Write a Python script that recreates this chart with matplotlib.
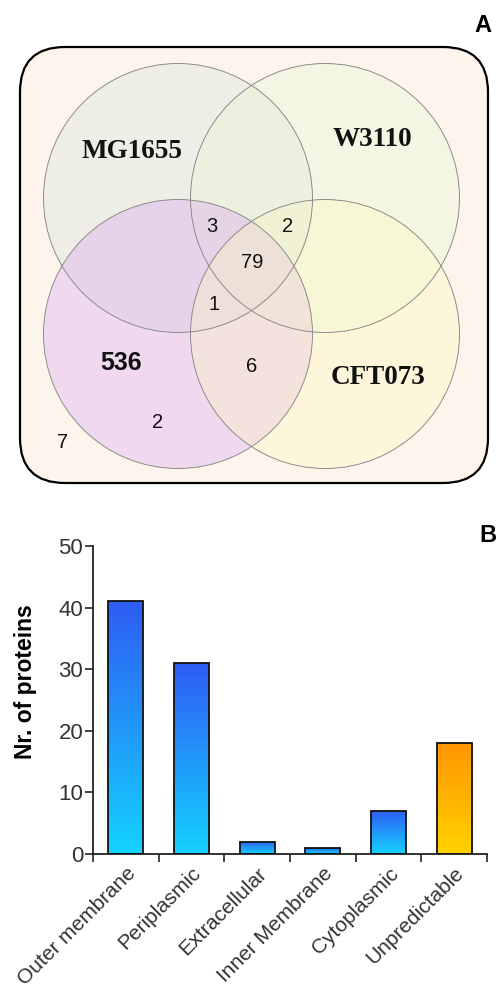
import numpy as np
import matplotlib
matplotlib.use("Agg")
import matplotlib.pyplot as plt
from matplotlib.patches import Circle, FancyBboxPatch
from matplotlib.colors import LinearSegmentedColormap

# ---------------- data ----------------
set_names = ["MG1655", "W3110", "536", "CFT073"]
region_counts = [3, 2, 79, 1, 6, 2, 7]

categories = ["Outer membrane", "Periplasmic", "Extracellular",
              "Inner Membrane", "Cytoplasmic", "Unpredictable"]
protein_counts = [41, 31, 2, 1, 7, 18]
bar_kind = ["blue", "blue", "blue", "blue", "blue", "orange"]
y_ticks = [0, 10, 20, 30, 40, 50]

# ---------------- figure ----------------
W, H = 498, 994
fig = plt.figure(figsize=(W / 100, H / 100), dpi=100)
fig.patch.set_facecolor("white")

# ---- Panel A: Venn diagram (axes in pixel units) ----
axv = fig.add_axes([0, 1 - 500 / H, 1, 500 / H])
axv.set_xlim(0, 498)
axv.set_ylim(500, 0)
axv.axis("off")

box = FancyBboxPatch((20, 47), 468, 436,
                     boxstyle="round,pad=0,rounding_size=45",
                     facecolor="#fdf5ec", edgecolor="black", linewidth=1.6,
                     zorder=1)
axv.add_patch(box)

circle_centers = [(178, 198), (325, 198), (178, 334), (325, 334)]
circle_radius = 134.5
circle_colors = ["#d2e1db", "#e6f5d2", "#d8a2f2", "#fdf8be"]
for (cx, cy), col in zip(circle_centers, circle_colors):
    axv.add_patch(Circle((cx, cy), circle_radius, facecolor=col,
                         edgecolor="none", alpha=0.35, zorder=2))
for (cx, cy) in circle_centers:
    axv.add_patch(Circle((cx, cy), circle_radius, facecolor="none",
                         edgecolor="#8c8c8c", linewidth=0.7, zorder=3))

name_pos = [(132, 151), (372, 140), (121, 363), (378, 378)]
name_font = [("Liberation Serif", "bold"), ("Liberation Serif", "bold"),
             ("Liberation Sans", "bold"), ("Liberation Serif", "bold")]
name_size = [19.5, 19.5, 18, 19.5]
for name, (x, y), (fam, wt), fs in zip(set_names, name_pos, name_font, name_size):
    axv.text(x, y, name, fontsize=fs, fontfamily=fam, fontweight=wt,
             ha="center", va="center", color="#111111", zorder=4)

count_pos = [(212, 226), (288, 226), (252, 263), (214, 305),
             (252, 366), (158, 423), (63, 443)]
for c, (x, y) in zip(region_counts, count_pos):
    axv.text(x, y, str(c), fontsize=14.5, fontfamily="Liberation Sans",
             ha="center", va="center", color="#111111", zorder=4)

axv.text(483, 25, "A", fontsize=17, fontweight="bold",
         fontfamily="Liberation Sans", ha="center", va="center")

# ---- Panel B: bar chart ----
left, right = 93 / W, 487 / W
bottom, top = (H - 854) / H, (H - 546) / H
axb = fig.add_axes([left, bottom, right - left, top - bottom])
x = np.arange(len(categories))
bars = axb.bar(x, protein_counts, width=0.53, facecolor="none",
               edgecolor="#111111", linewidth=1.3, zorder=3)

cmap_blue = LinearSegmentedColormap.from_list("b", ["#14d2ff", "#2e5df4"])
cmap_orange = LinearSegmentedColormap.from_list("o", ["#ffd200", "#ff9600"])
grad = np.linspace(0, 1, 256).reshape(-1, 1)
for b, kind in zip(bars, bar_kind):
    x0, w, h = b.get_x(), b.get_width(), b.get_height()
    im = axb.imshow(grad, cmap=cmap_blue if kind == "blue" else cmap_orange,
                    extent=[x0, x0 + w, 0, h], origin="lower",
                    aspect="auto", zorder=2, interpolation="bilinear")
    im.set_clip_path(b)

axb.set_xlim(-0.5, len(categories) - 0.5)
axb.set_ylim(0, 50)
for s in ["top", "right"]:
    axb.spines[s].set_visible(False)
for s in ["left", "bottom"]:
    axb.spines[s].set_linewidth(1.3)
    axb.spines[s].set_color("#222222")

axb.set_yticks(y_ticks)
axb.tick_params(axis="y", length=6, width=1.2, color="#222222",
                labelsize=16, labelcolor="#333333", pad=1)
axb.set_xticks(x)
axb.set_xticklabels(categories, rotation=45, ha="right",
                    rotation_mode="anchor", fontsize=15, color="#333333")
axb.tick_params(axis="x", which="major", length=0, pad=7)
axb.set_xticks(np.arange(-0.5, len(categories), 1.0), minor=True)
axb.tick_params(axis="x", which="minor", length=6, width=1.2,
                color="#222222", direction="out")
for lab in axb.get_yticklabels() + axb.get_xticklabels():
    lab.set_fontfamily("Liberation Sans")

axb.set_ylabel("Nr. of proteins", fontsize=16.5, fontweight="bold",
               fontfamily="Liberation Sans")
axb.yaxis.set_label_coords(-0.142, 0.56)

fig.text(488 / W, 1 - 535 / H, "B", fontsize=17, fontweight="bold",
         fontfamily="Liberation Sans", ha="center", va="center")

fig.savefig("out.png", dpi=100)
